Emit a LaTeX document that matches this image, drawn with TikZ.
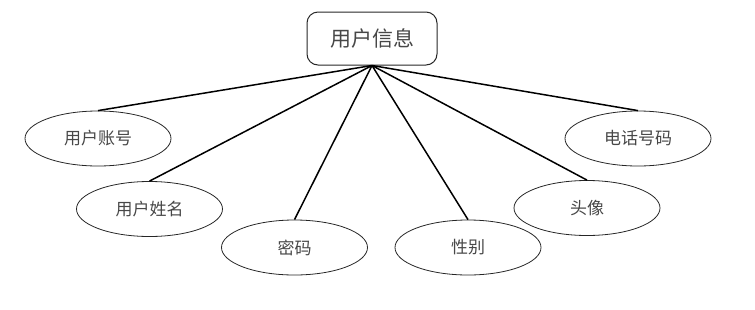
\documentclass[tikz,border=0pt]{standalone}
\usepackage{fontspec}
\newfontfamily\cjk{Noto Sans CJK SC}
\usetikzlibrary{shapes.geometric}
\begin{document}
\begin{tikzpicture}[x=1pt,y=-1pt,
  attr/.style={ellipse,draw=black!85,line width=0.8pt,minimum width=146pt,minimum height=55pt,inner sep=0pt,font=\cjk\fontsize{17}{19}\selectfont,text=black!72},
  entity/.style={rectangle,rounded corners=11pt,draw=black!85,line width=1pt,minimum width=130pt,minimum height=53pt,font=\cjk\fontsize{21}{23}\selectfont,text=black!72},
  link/.style={line width=1.5pt}]
\useasboundingbox (0,0) rectangle (755,309);
\node[entity] (u) at (372,38.5) {用户信息};
\coordinate (hub) at (372,65.5);
\node[attr] (a1) at (98,138.5) {用户账号};
\node[attr] (a2) at (149.5,209) {用户姓名};
\node[attr] (a3) at (294.5,247.5) {密码};
\node[attr] (a4) at (468,247.5) {性别};
\node[attr] (a5) at (587,208) {头像};
\node[attr] (a6) at (638,138.5) {电话号码};
\foreach \n in {a1,a2,a3,a4,a5,a6} \draw[link] (hub) -- (\n.north);
\end{tikzpicture}
\end{document}
